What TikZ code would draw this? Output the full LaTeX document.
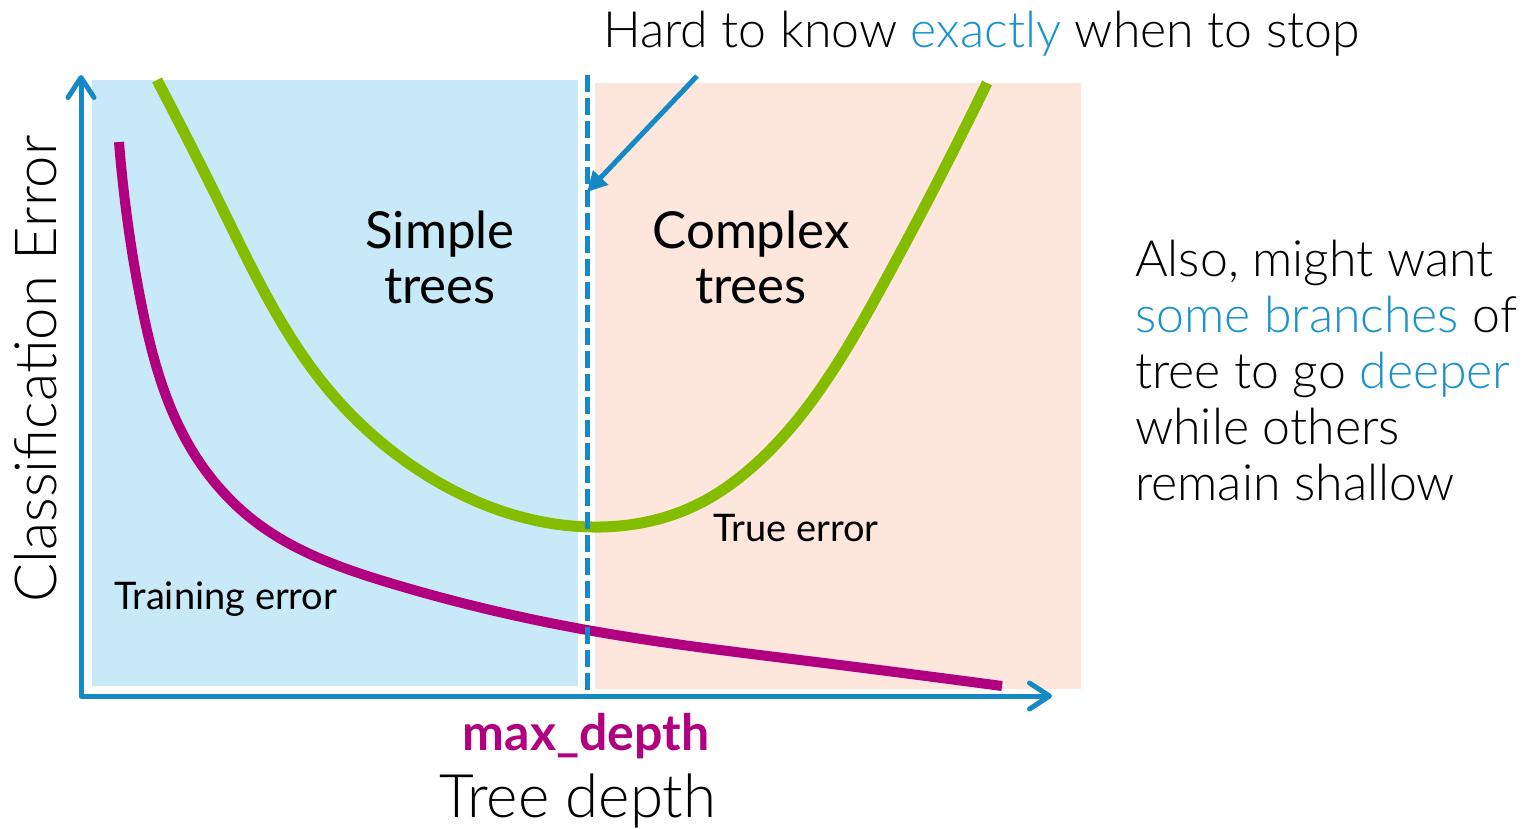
\documentclass[tikz,border=0pt]{standalone}
\usepackage{fontspec}
\setmainfont{Lato}
\newfontfamily\lightfont{Lato Light}
\usetikzlibrary{arrows.meta,hobby}
\definecolor{axisblue}{HTML}{1589C6}
\definecolor{textblue}{HTML}{1A93CC}
\definecolor{magentac}{HTML}{B0007F}
\definecolor{greenc}{HTML}{84BD00}
\definecolor{simplebg}{HTML}{C8EAF8}
\definecolor{complexbg}{HTML}{FDE6DC}
\begin{document}
\begin{tikzpicture}[x=1pt,y=-1pt,
  axisline/.style={draw=axisblue,line width=5pt,line join=round,
    {Straight Barb[round,length=20pt,width=26pt]}-{Straight Barb[round,length=20pt,width=26pt]}},
  dashline/.style={draw=axisblue,line width=5pt,dash pattern=on 17pt off 6pt},
  pointer/.style={draw=axisblue,line width=5pt,-{Triangle[length=20pt,width=20pt]}},
  truecurve/.style={draw=greenc,line width=11pt},
  traincurve/.style={draw=magentac,line width=10pt},
  regionlabel/.style={font=\fontsize{51}{55}\selectfont,align=center,text=black,inner sep=0pt},
  curvelabel/.style={font=\fontsize{38}{42}\selectfont,text=black,inner sep=0pt},
  bigtext/.style={font=\lightfont\fontsize{50}{56}\selectfont,text=black,inner sep=0pt,align=left}
]
\useasboundingbox (0,0) rectangle (1538,828);
% regions
\fill[simplebg] (92,80) rectangle (578,686);
\fill[complexbg] (595,83) rectangle (1081,689);
% coordinates
\coordinate (ytop) at (81,75);
\coordinate (xend) at (1052,696);
\coordinate (dtop) at (587,75);
\coordinate (dbot) at (587,696);
\coordinate (astart) at (697,76);
\coordinate (atip) at (587,192);
% curves
\draw[truecurve] (157,80) to[curve through={(223,210) .. (323,383) .. (423,473) .. (600,527) .. (690,508) .. (760,460) .. (880,290)}] (987,83);
\draw[traincurve] (119,142) to[curve through={(140,297) .. (190,447) .. (257,523) .. (390,583) .. (587,630) .. (800,660)}] (1002,686);
% dashed line
\draw[dashline] (dtop) -- (dbot);
% axes
\draw[axisline] (ytop) |- (xend);
% pointer arrow
\draw[pointer] (astart) -- (atip);
% labels
\node[regionlabel,anchor=base] (simple) at (440,303) {Simple\\trees};
\node[regionlabel,anchor=base] (complex) at (751,303) {Complex\\trees};
\node[curvelabel,anchor=base west] (trueerr) at (713,541) {True error};
\node[curvelabel,anchor=base west] (trainerr) at (114,609) {Training error};
\node[inner sep=0pt,anchor=base,text=magentac,font=\bfseries\fontsize{50}{56}\selectfont] (maxd) at (586,750) {max\_depth};
\node[inner sep=0pt,anchor=base,font=\lightfont\fontsize{60}{66}\selectfont] (xlabel) at (578,817) {Tree depth};
\node[inner sep=0pt,anchor=base,rotate=90,font=\lightfont\fontsize{58}{64}\selectfont] (ylabel) at (56,369) {Classification Error};
\node[inner sep=0pt,anchor=base west,font=\lightfont\fontsize{50}{56}\selectfont] (hard) at (603,47) {Hard to know \textcolor{textblue}{exactly} when to stop};
\node[bigtext,anchor=base west] (also) at (1135,500) {Also, might want\\\textcolor{textblue}{some branches} of\\tree to go \textcolor{textblue}{deeper}\\while others\\remain shallow};
\end{tikzpicture}
\end{document}
